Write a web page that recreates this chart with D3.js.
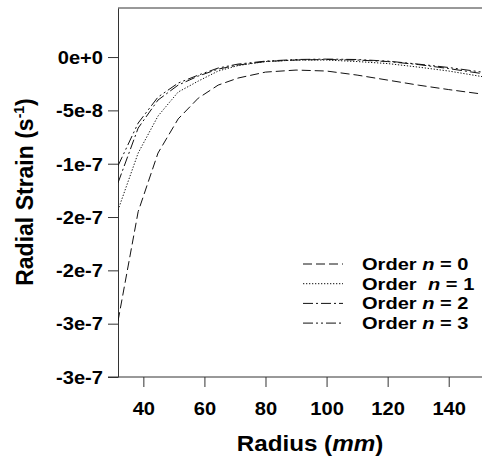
<!DOCTYPE html>
<html>
<head>
<meta charset="utf-8">
<script src="https://cdn.jsdelivr.net/npm/d3@7"></script>
<style>
  body { margin: 0; background: #fff; }
  svg { display: block; font-family: "Liberation Sans", Arial, sans-serif; font-weight: bold; }
</style>
</head>
<body>
<svg id="chart" width="482" height="459"></svg>
<script>
// radius values (mm) where the curves were sampled
var radius = [31.7, 38.3, 44.8, 51.4, 58, 64.5, 71, 80, 90, 100, 110, 120, 130, 140, 150.9];

// radial strain for each order (s^-1)
var order0 = [-2.476e-7, -1.45e-7, -9.0e-8, -5.8e-8, -3.85e-8, -2.63e-8, -1.97e-8, -1.41e-8, -1.22e-8, -1.31e-8, -1.69e-8, -2.16e-8, -2.63e-8, -3.05e-8, -3.47e-8];
var order1 = [-1.435e-7, -9.0e-8, -5.53e-8, -3.28e-8, -2.25e-8, -1.31e-8, -8.0e-9, -4.2e-9, -2.8e-9, -2.8e-9, -4.2e-9, -6.1e-9, -9.4e-9, -1.31e-8, -1.83e-8];
var order2 = [-1.18e-7, -6.66e-8, -4.03e-8, -2.63e-8, -1.78e-8, -1.13e-8, -7.5e-9, -4.2e-9, -2.8e-9, -2.3e-9, -2.8e-9, -4.2e-9, -7.0e-9, -1.08e-8, -1.55e-8];
var order3 = [-1.02e-7, -6.19e-8, -3.75e-8, -2.44e-8, -1.69e-8, -1.03e-8, -6.6e-9, -3.8e-9, -2.3e-9, -1.9e-9, -2.3e-9, -3.8e-9, -6.6e-9, -9.8e-9, -1.41e-8];

var orderNames = ["0", "1", "2", "3"];

var xTicks = [40, 60, 80, 100, 120, 140];
var yTicks = [0, -5e-8, -1e-7, -1.5e-7, -2e-7, -2.5e-7, -3e-7];
var yTickLabels = ["0e+0", "-5e-8", "-1e-7", "-2e-7", "-2e-7", "-3e-7", "-3e-7"];

var series = [order0, order1, order2, order3];
var dashes = ["9,4", "1.3,1.7", "10,3,2,3", "10,3,2,3,2,3"];

var svg = d3.select("#chart");
var plotLeft = 118, plotTop = 8, plotRight = 482, plotBottom = 377;

var x = d3.scaleLinear().domain([31.7, 150.9]).range([plotLeft, plotRight]);
var y = d3.scaleLinear().domain([-3e-7, 4.6e-8]).range([plotBottom, plotTop]);

var axisColor = "#333";

// y axis
var yAxis = svg.append("g")
    .attr("transform", "translate(" + plotLeft + ",0)")
    .call(d3.axisLeft(y).tickValues(yTicks).tickSize(10).tickSizeOuter(0).tickPadding(5)
        .tickFormat(function (d, i) { return yTickLabels[i]; }));
yAxis.select(".domain").attr("stroke", axisColor);
yAxis.selectAll(".tick line").attr("stroke", axisColor);
yAxis.selectAll(".tick text")
    .attr("fill", "#000")
    .style("font-size", "17.5px")
    .attr("x", null)
    .attr("dy", "0.36em")
    .attr("transform", "translate(-15,0) scale(1.15,1)");

// x axis
var xAxis = svg.append("g")
    .attr("transform", "translate(0," + plotBottom + ")")
    .call(d3.axisBottom(x).tickValues(xTicks).tickSize(10).tickSizeOuter(0).tickPadding(8));
xAxis.select(".domain").remove();
xAxis.selectAll(".tick line").attr("stroke", axisColor);
xAxis.selectAll(".tick text")
    .attr("fill", "#000")
    .style("font-size", "17.5px")
    .attr("y", null)
    .attr("dy", null)
    .attr("transform", "translate(0,38) scale(1.15,1)");

svg.append("line")
    .attr("x1", plotLeft - 10).attr("x2", plotRight)
    .attr("y1", plotBottom).attr("y2", plotBottom)
    .attr("stroke", axisColor);

// top frame
svg.append("line")
    .attr("x1", plotLeft).attr("x2", plotRight)
    .attr("y1", plotTop).attr("y2", plotTop)
    .attr("stroke", axisColor);

// curves
svg.append("clipPath").attr("id", "plotclip")
    .append("rect").attr("x", plotLeft).attr("y", plotTop)
    .attr("width", plotRight - plotLeft).attr("height", plotBottom - plotTop);

var line = d3.line()
    .x(function (d, i) { return x(radius[i]); })
    .y(function (d) { return y(d); });

svg.append("g").attr("clip-path", "url(#plotclip)")
    .selectAll("path")
    .data(series)
    .enter().append("path")
    .attr("d", line)
    .attr("fill", "none")
    .attr("stroke", "#111")
    .attr("stroke-width", 1)
    .attr("stroke-dasharray", function (d, i) { return dashes[i]; });

// legend
var legend = svg.append("g");
orderNames.forEach(function (name, i) {
    var ly = 264 + i * 19.7;
    legend.append("line")
        .attr("x1", 303).attr("x2", 343)
        .attr("y1", ly).attr("y2", ly)
        .attr("stroke", "#111")
        .attr("stroke-dasharray", dashes[i]);
    var t = legend.append("text")
        .attr("transform", "translate(362," + (ly + 6) + ") scale(1.18,1)")
        .style("font-size", "17px");
    t.append("tspan").text("Order ");
    t.append("tspan").attr("font-style", "italic").attr("dx", i == 1 ? 5 : 0).text("n");
    t.append("tspan").text(" = " + name);
});

// axis titles
var xt = svg.append("text")
    .attr("transform", "translate(310,451) scale(1.1,1)")
    .attr("text-anchor", "middle")
    .style("font-size", "22px");
xt.append("tspan").text("Radius (");
xt.append("tspan").attr("font-style", "italic").text("mm");
xt.append("tspan").text(")");

var yt = svg.append("text")
    .attr("transform", "translate(33,192) rotate(-90)")
    .attr("text-anchor", "middle")
    .style("font-size", "23px");
yt.append("tspan").text("Radial Strain (s");
yt.append("tspan").attr("dy", -9).style("font-size", "14px").text("-1");
yt.append("tspan").attr("dy", 9).text(")");
</script>
</body>
</html>
